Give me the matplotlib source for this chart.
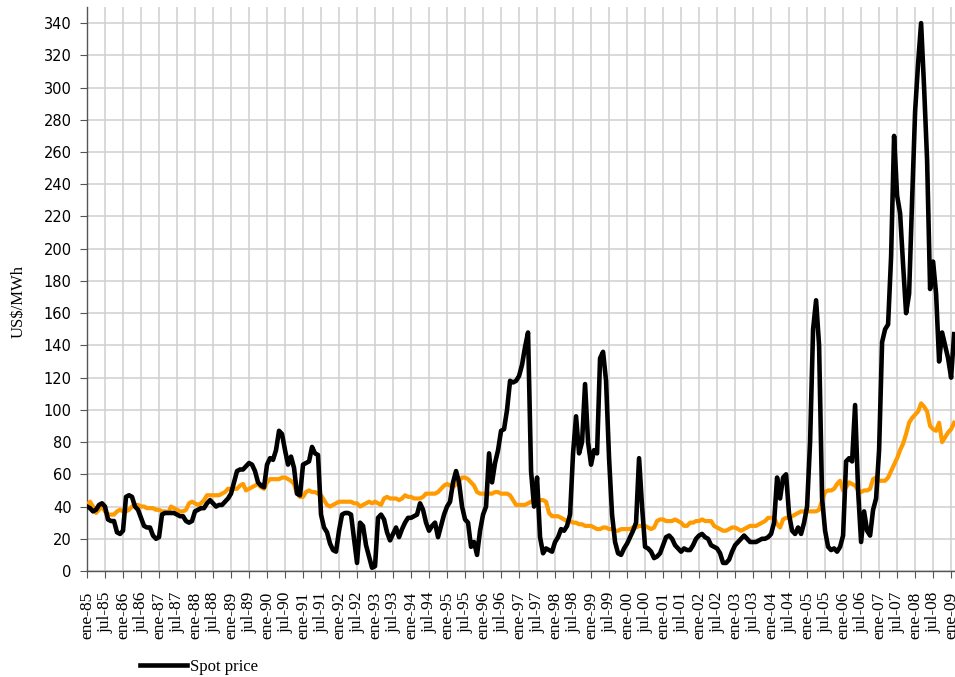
import numpy as np
import matplotlib
matplotlib.use("Agg")
import matplotlib.pyplot as plt
from matplotlib.lines import Line2D

# monthly values, ene-85 .. feb-09 (US$/MWh)
spot_price = [
    40, 39, 37, 38, 41, 42, 40, 32, 31, 31, 24, 23,        # 1985
    25, 46, 47, 46, 40, 38, 33, 28, 27, 27, 22, 20,        # 1986
    21, 35, 36, 36, 36, 36, 35, 34, 34, 31, 30, 31,        # 1987
    37, 38, 39, 39, 42, 44, 42, 40, 41, 41, 43, 45,        # 1988
    48, 55, 62, 63, 63, 65, 67, 66, 62, 55, 53, 52,        # 1989
    66, 70, 69, 75, 87, 85, 75, 66, 71, 64, 48, 47,        # 1990
    66, 67, 68, 77, 73, 72, 35, 27, 24, 17, 13, 12,        # 1991
    25, 35, 36, 36, 35, 20, 5, 30, 28, 16, 9, 2,           # 1992
    3, 33, 35, 32, 24, 19, 23, 27, 21, 26, 30, 33,         # 1993
    33, 34, 35, 42, 38, 30, 25, 28, 30, 21, 28, 35,        # 1994
    40, 43, 55, 62, 55, 40, 32, 30, 15, 18, 10, 25,        # 1995
    35, 40, 73, 55, 67, 75, 87, 88, 100, 118, 117, 118,    # 1996
    121, 128, 139, 148, 62, 40, 58, 21, 11, 14, 13, 12,    # 1997
    18, 21, 26, 25, 28, 35, 73, 96, 73, 80, 116, 80,       # 1998
    66, 75, 73, 132, 136, 118, 70, 35, 18, 11, 10, 14,     # 1999
    17, 21, 25, 30, 70, 40, 15, 14, 12, 8, 9, 11,          # 2000
    16, 21, 22, 20, 16, 14, 12, 14, 13, 13, 16, 20,        # 2001
    22, 23, 21, 20, 16, 15, 14, 11, 5, 5, 7, 12,           # 2002
    16, 18, 20, 22, 20, 18, 18, 18, 19, 20, 20, 21,        # 2003
    23, 30, 58, 45, 58, 60, 35, 25, 23, 27, 23, 30,        # 2004
    40, 80, 150, 168, 140, 45, 25, 15, 13, 14, 12, 15,     # 2005
    22, 68, 70, 68, 103, 50, 18, 37, 25, 22, 38, 45,       # 2006
    75, 142, 150, 153, 195, 270, 233, 222, 190, 160, 172, 230,  # 2007
    285, 315, 340, 300, 255, 175, 192, 172, 130, 148, 140, 132,  # 2008
    120, 147,                                               # 2009
]

node_price = [
    41, 43, 40, 36, 38, 40, 37, 35, 35, 35, 37, 38,        # 1985
    37, 37, 38, 40, 41, 41, 40, 40, 39, 39, 39, 38,        # 1986
    38, 37, 37, 36, 40, 39, 38, 37, 37, 38, 42, 43,        # 1987
    42, 41, 42, 44, 47, 47, 47, 47, 47, 48, 49, 51,        # 1988
    51, 51, 51, 53, 54, 50, 51, 52, 53, 54, 52, 51,        # 1989
    55, 57, 57, 57, 57, 58, 58, 57, 56, 54, 48, 46,        # 1990
    46, 49, 50, 49, 49, 48, 47, 44, 41, 40, 41, 42,        # 1991
    43, 43, 43, 43, 43, 42, 42, 40, 41, 42, 43, 42,        # 1992
    43, 42, 41, 45, 46, 45, 45, 45, 44, 45, 47, 46,        # 1993
    46, 45, 45, 45, 46, 48, 48, 48, 48, 49, 51, 53,        # 1994
    54, 53, 52, 54, 56, 58, 58, 57, 55, 53, 49, 48,        # 1995
    48, 48, 48, 48, 49, 49, 48, 48, 48, 47, 44, 41,        # 1996
    41, 41, 41, 42, 43, 44, 44, 44, 44, 43, 36, 34,        # 1997
    34, 34, 33, 32, 31, 31, 30, 30, 29, 29, 28, 28,        # 1998
    28, 27, 26, 26, 27, 27, 26, 26, 25, 25, 26, 26,        # 1999
    26, 26, 27, 27, 28, 28, 28, 27, 26, 27, 31, 32,        # 2000
    32, 31, 31, 31, 32, 31, 30, 28, 28, 30, 30, 31,        # 2001
    31, 32, 31, 31, 31, 28, 27, 26, 25, 25, 26, 27,        # 2002
    27, 26, 25, 26, 27, 28, 28, 28, 29, 30, 31, 33,        # 2003
    33, 33, 29, 27, 32, 33, 33, 34, 35, 36, 37, 37,        # 2004
    37, 37, 37, 37, 38, 44, 49, 50, 50, 51, 54, 56,        # 2005
    50, 52, 55, 54, 53, 50, 49, 50, 50, 51, 57, 58,        # 2006
    56, 56, 56, 58, 62, 66, 70, 75, 79, 85, 92, 95,        # 2007
    97, 99, 104, 102, 99, 90, 88, 87, 92, 80, 83, 86,      # 2008
    88, 92,                                                 # 2009
]

first_year = 1985
last_year = 2009
y_ticks = np.arange(0, 341, 20)

months = np.arange(len(spot_price))
tick_pos = np.arange(0, (last_year - first_year) * 12 + 1, 6)
tick_labels = []
for yr in range(first_year, last_year):
    tick_labels += [f"ene-{yr % 100:02d}", f"jul-{yr % 100:02d}"]
tick_labels.append(f"ene-{last_year % 100:02d}")

serif = "Liberation Serif"

fig = plt.figure(figsize=(9.55, 6.77), dpi=100)
ax = fig.add_axes([87 / 955, 1 - 571 / 677, 1 - 87 / 955, (571 - 7) / 677])

ax.plot(months, node_price, color="#FF9A00", lw=3.0, solid_joinstyle="round", zorder=3)
ax.plot(months, spot_price, color="black", lw=3.3, solid_joinstyle="round", zorder=4)

ax.set_xlim(0, 289.3)
ax.set_ylim(0, 350)
ax.set_xticks(tick_pos)
ax.set_xticklabels(tick_labels, rotation=90, fontfamily=serif, fontsize=12.5)
ax.set_yticks(y_ticks)
ax.tick_params(axis="y", labelsize=10.5, length=5, pad=6, color="#555555")
ax.tick_params(axis="x", length=5, pad=10, color="#555555")

ax.grid(True, color="#CFCFCF", lw=1.1)
ax.set_axisbelow(True)
for s in ["top", "right"]:
    ax.spines[s].set_visible(False)
for s in ["left", "bottom"]:
    ax.spines[s].set_color("#555555")
    ax.spines[s].set_linewidth(1.0)

fig.text(19 / 955, 1 - 302 / 677, "US$/MWh", rotation=90, ha="center", va="center",
         fontfamily=serif, fontsize=12)

fig.legend(handles=[Line2D([], [], color="black", lw=3.3)], labels=["Spot price"],
           loc="center left", bbox_to_anchor=(140 / 955, 1 - 667 / 677),
           frameon=False, borderaxespad=0, borderpad=0, handlelength=2.8,
           handletextpad=0.2, prop={"family": serif, "size": 12})

fig.savefig("out.png", dpi=100)
